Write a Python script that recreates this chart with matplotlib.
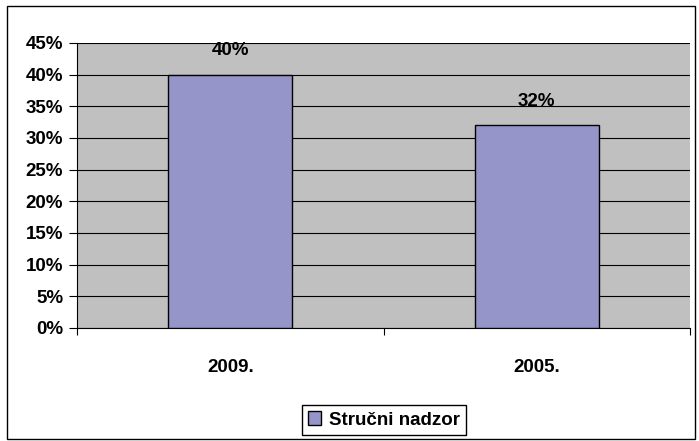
import matplotlib.pyplot as plt
from matplotlib.patches import Rectangle
from matplotlib.ticker import FuncFormatter

categories = ['2009.', '2005.']
values = [40, 32]
series_name = 'Stručni nadzor'

plt.rcParams['font.family'] = ['Liberation Sans', 'DejaVu Sans']
plt.rcParams['font.weight'] = 'bold'

fig = plt.figure(figsize=(6.99, 4.41), dpi=100)
ax = fig.add_axes([77 / 699, 1 - 328 / 441, 613 / 699, 285 / 441])
ax.set_facecolor('#C0C0C0')

x = list(range(len(categories)))
bars = ax.bar(x, values, width=0.405, color='#9595C9', edgecolor='black',
              linewidth=1.0, label=series_name, zorder=3)

for xi, v in zip(x, values):
    ax.annotate(f'{v}%', (xi, v), xytext=(0, 11), textcoords='offset points',
                ha='center', va='bottom', fontsize=13.5, fontweight='bold')

ax.set_xlim(-0.5, 1.5)
ax.set_ylim(0, 45)
ax.set_yticks(range(0, 46, 5))
ax.yaxis.set_major_formatter(FuncFormatter(lambda v, p: f'{int(v)}%'))
ax.yaxis.grid(True, color='black', linewidth=0.8, zorder=1)
ax.set_axisbelow(True)

ax.set_xticks([-0.5, 0.5, 1.5])
ax.set_xticklabels([])
ax.set_xticks(x, minor=True)
ax.set_xticklabels(categories, minor=True)
ax.tick_params(axis='x', which='minor', length=0, pad=22, labelsize=13.5)
ax.tick_params(axis='x', which='major', length=5, direction='out', color='black')
ax.tick_params(axis='y', length=6, direction='out', labelsize=13.5, pad=4)

for side in ['top', 'right']:
    ax.spines[side].set_visible(False)
ax.spines['left'].set_color('black')
ax.spines['bottom'].set_color('black')

leg = fig.legend(loc='center', bbox_to_anchor=(384 / 699, 1 - 420 / 441),
                 fancybox=False, edgecolor='black', framealpha=1,
                 prop={'size': 13.5, 'weight': 'bold'}, handlelength=0.7,
                 handleheight=0.7, handletextpad=0.4, borderpad=0.35)
leg.get_frame().set_linewidth(1.0)

fig.patches.append(Rectangle((7 / 699, 2 / 441), 688 / 699, 433 / 441,
                             transform=fig.transFigure, fill=False,
                             edgecolor='black', linewidth=1.0))

fig.savefig('out.png', dpi=100)
